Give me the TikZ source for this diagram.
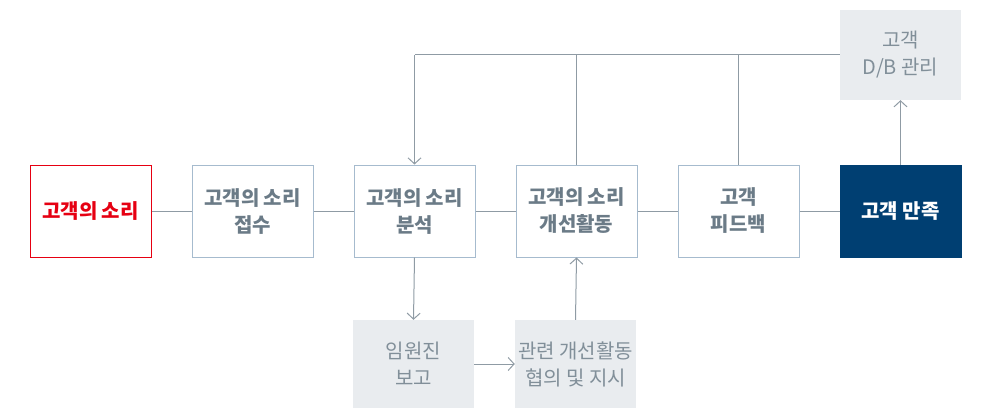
\documentclass[tikz,border=0pt]{standalone}
\usepackage{fontspec}
\setmainfont{Noto Sans CJK KR}
\usetikzlibrary{arrows.meta,positioning}

\definecolor{txtgray}{HTML}{6B7B87}
\definecolor{linegray}{HTML}{8F9BA4}
\definecolor{boxline}{HTML}{A6BBCE}
\definecolor{boxfill}{HTML}{E9ECEF}
\definecolor{vocred}{HTML}{E60012}
\definecolor{navy}{HTML}{003F72}

\tikzset{
  stage/.style={draw=boxline,line width=1pt,minimum width=121pt,minimum height=92pt,
    align=center,inner sep=0pt,text=txtgray,font=\fontsize{20}{27}\selectfont\bfseries},
  side/.style={fill=boxfill,minimum width=121pt,align=center,inner sep=0pt,
    text=txtgray!85,font=\fontsize{20}{27}\selectfont},
  link/.style={draw=linegray,line width=1pt},
  flow/.style={link,-{Straight Barb[length=6pt,width=13pt,line width=1pt]}}
}

\begin{document}
\begin{tikzpicture}[x=1pt,y=1pt]
\useasboundingbox (0,0) rectangle (1002,408);

\node[stage,draw=vocred,text=vocred] (N1) at (90.5,197) {고객의 소리};
\foreach \t [count=\n from 2] in {{고객의 소리\\접수},{고객의 소리\\분석},{고객의 소리\\개선활동},{고객\\피드백}}
  \node[stage,xshift=(\n-1)*162pt] (N\n) at (N1) {\t};
\node[stage,draw=navy,fill=navy,text=white] (N6) at (900.5,197) {고객 만족};

\node[side,minimum height=88pt] (R1) at (413.5,44) {임원진\\보고};
\node[side,minimum height=88pt] (R2) at (575.5,44) {관련 개선활동\\협의 및 지시};
\node[side,minimum height=90pt] (DB) at (900.5,353) {고객\\D/B 관리};

\foreach \a/\b in {N1/N2,N2/N3,N3/N4,N4/N5,N5/N6}
  \draw[link] (\a) -- (\b);

\coordinate (T) at (N3.north |- DB.west);
\draw[link] (DB.west) -- (T);
\draw[flow] (T) -- (N3.north);
\draw[link] (N4.north) -- (N4.north |- T);
\draw[link] (N5.north) -- (N5.north |- T);

\draw[flow] (N3.south) -- (R1.north);
\draw[flow] (R1.east) -- (R2.west);
\draw[flow] (R2.north) -- (N4.south);
\draw[flow] (N6.north) -- (DB.south);
\end{tikzpicture}
\end{document}
